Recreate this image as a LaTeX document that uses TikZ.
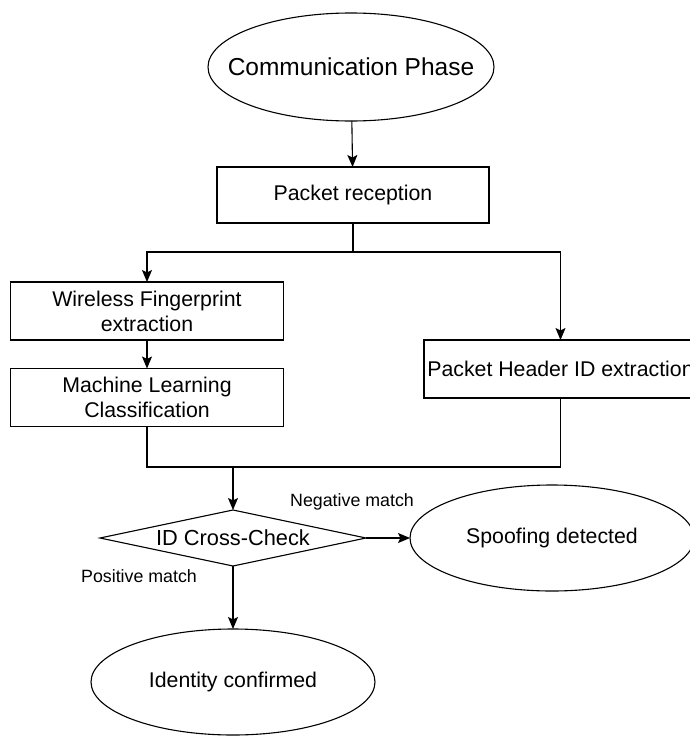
\documentclass[tikz,border=0pt]{standalone}
\usepackage{fontspec}
\setmainfont{Liberation Sans}
\usetikzlibrary{arrows.meta,shapes.geometric}
% ellipse whose size is fixed by its minimum dimensions, not by its text
\newcommand{\ovaltext}[1]{\makebox[0pt]{#1}}
\begin{document}
\begin{tikzpicture}[x=1pt,y=-1pt,
  line width=1.1pt,
  every node/.style={inner sep=0pt,outer sep=0pt},
  box/.style={draw,minimum width=273pt,minimum height=58pt,align=center,font=\fontsize{21.3}{25}\selectfont},
  oval/.style={draw,ellipse,minimum width=284pt,minimum height=106pt,font=\fontsize{21.3}{25}\selectfont},
  choice/.style={draw,diamond,aspect=4.75,minimum width=266pt,minimum height=56pt,font=\fontsize{21.8}{25}\selectfont},
  lbl/.style={font=\fontsize{17.8}{21}\selectfont},
  flow/.style={-{Stealth[length=12pt,width=10pt,inset=2.5pt]}},
]
\useasboundingbox (0,0) rectangle (690,736);

\node[oval,minimum width=286pt,minimum height=108pt,font=\fontsize{24.5}{28}\selectfont] (start) at (351,67) {\ovaltext{Communication Phase}};
\node[box,minimum width=272pt,minimum height=56pt] (rx) at (353,195) {Packet reception};
\node[box] (wf) at (147,311) {Wireless Fingerprint\\extraction};
\node[box] (ml) at (147,397.5) {Machine Learning\\Classification};
\node[box] (hdr) at (560.5,369) {Packet Header ID extraction};
\node[choice] (chk) at (233,538) {ID Cross-Check};
\node[oval] (spoof) at (552,538) {\ovaltext{Spoofing detected}};
\node[oval] (ok) at (233,682) {\ovaltext{Identity confirmed}};

\coordinate (split) at (353,252);
\coordinate (merge) at (233,467);

\draw[flow] (start) -- (rx);
\draw (rx.south) -- (split);
\draw[flow] (split) -| (wf.north);
\draw[flow] (split) -| (hdr.north);
\draw[flow] (wf) -- (ml);
\draw (ml.south) |- (merge) -| (hdr.south);
\draw[flow] (merge) -- (chk.north);
\draw[flow] (chk.east) -- (spoof.west);
\draw[flow] (chk.south) -- (ok.north);

\node[lbl] at (352,502) {Negative match};
\node[lbl] at (139,576) {Positive match};
\end{tikzpicture}
\end{document}
